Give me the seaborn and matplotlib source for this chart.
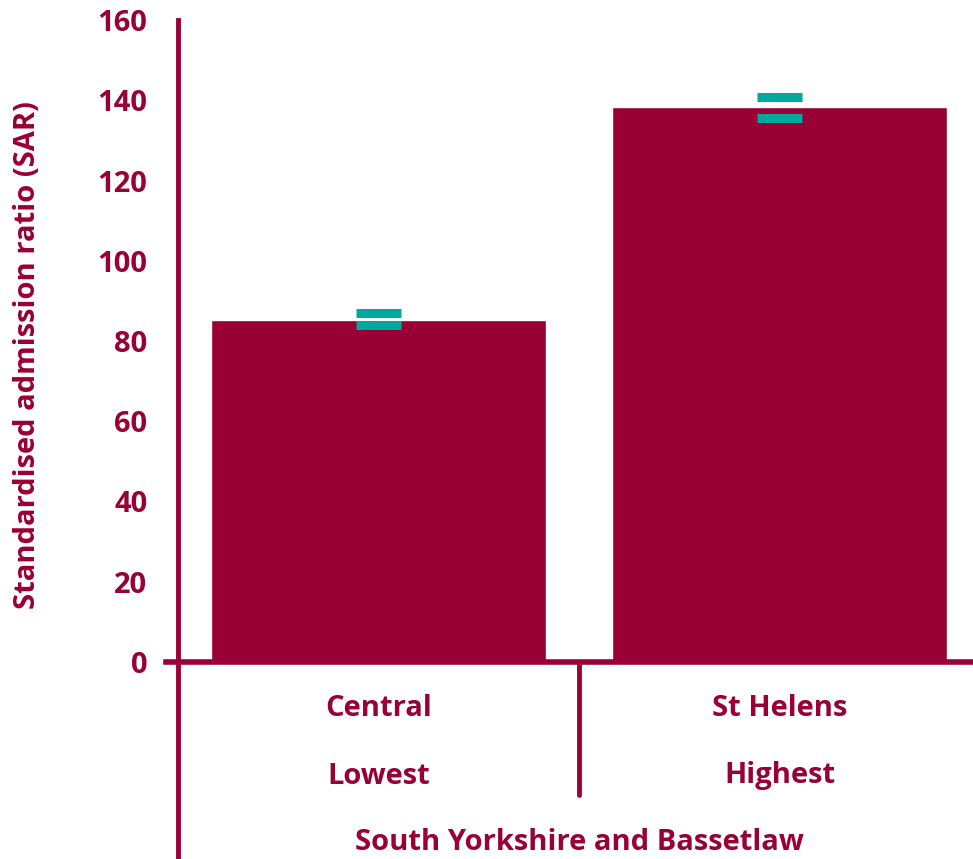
import pandas as pd
import numpy as np
import matplotlib.pyplot as plt
import seaborn as sns

# data
areas = ["Central", "St Helens"]
ranks = ["Lowest", "Highest"]
group = "South Yorkshire and Bassetlaw"
sar = [85.3, 138.2]
ci_upper = [86.9, 140.7]
ci_lower = [83.9, 135.5]
y_ticks = [0, 20, 40, 60, 80, 100, 120, 140, 160]

wine = "#990033"
teal = "#00A99D"

sns.set_style("white")
plt.rcParams['font.family'] = ['Open Sans', 'DejaVu Sans']
plt.rcParams['font.weight'] = 'bold'

data = pd.DataFrame({"area": areas, "sar": sar})

fig = plt.figure(figsize=(9.73, 8.59), dpi=100)
ax = fig.add_axes([178 / 973, 197 / 859, 802 / 973, 642 / 859])

sns.barplot(data=data, x="area", y="sar", color=wine, saturation=1,
            width=0.833, ax=ax)

# confidence limits shown as short thick dashes
for i in range(len(areas)):
    ax.hlines([ci_upper[i], ci_lower[i]], i - 0.055, i + 0.055,
              color=teal, linewidth=6.5, zorder=5)

ax.set_xlim(-0.5, 1.5)
ax.set_ylim(0, 160)
ax.set_yticks(y_ticks)
ax.set_yticklabels([str(t) for t in y_ticks], fontsize=21, color=wine,
                   fontweight='bold')
ax.tick_params(axis='y', length=8, width=3, color=wine, pad=14, direction='out')
ax.set_xticks([])
ax.set_xlabel("")
ax.set_ylabel("Standardised admission ratio (SAR)", fontsize=21, color=wine,
              fontweight='bold')
ax.yaxis.set_label_coords(-0.17, 0.478)

for s in ["top", "right"]:
    ax.spines[s].set_visible(False)
ax.spines["left"].set_color(wine)
ax.spines["left"].set_linewidth(3.5)
ax.spines["bottom"].set_color(wine)
ax.spines["bottom"].set_linewidth(4)
ax.spines["bottom"].set_bounds(-0.53, 1.5)

# multi-level category axis under the bars
tr = ax.get_xaxis_transform()
px = 1 / 642
for i in range(len(areas)):
    ax.text(i, -47 * px, areas[i], transform=tr, ha='center', va='center',
            fontsize=21, color=wine, fontweight='bold')
    ax.text(i, -114 * px, ranks[i], transform=tr, ha='center', va='center',
            fontsize=21, color=wine, fontweight='bold')
ax.text(0.5, -180 * px, group, transform=tr, ha='center', va='center',
        fontsize=21, color=wine, fontweight='bold')

ax.plot([-0.5, -0.5], [0, -200 * px], transform=tr, color=wine,
        linewidth=3.5, clip_on=False)
ax.plot([0.5, 0.5], [0, -133 * px], transform=tr, color=wine,
        linewidth=3.5, clip_on=False)

fig.savefig("out.png", dpi=100)
